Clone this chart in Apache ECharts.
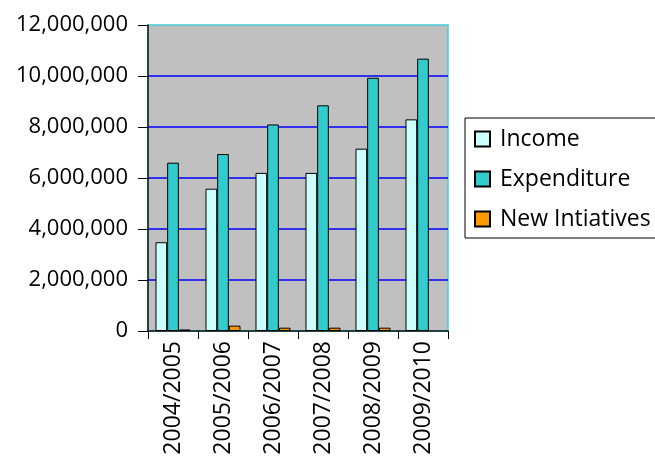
<!DOCTYPE html>
<html>
<head>
<meta charset="utf-8">
<script src="https://cdn.jsdelivr.net/npm/echarts@6/dist/echarts.min.js"></script>
<style>
  html, body { margin: 0; padding: 0; background: #ffffff; }
  #chart { width: 655px; height: 460px; }
</style>
</head>
<body>
<div id="chart"></div>
<script>
// Yearly figures
const years = ['2004/2005', '2005/2006', '2006/2007', '2007/2008', '2008/2009', '2009/2010'];
const income = [3480000, 5580000, 6200000, 6200000, 7150000, 8300000];
const expenditure = [6600000, 6940000, 8100000, 8850000, 9930000, 10680000];
const newInitiatives = [60000, 210000, 130000, 130000, 130000, null];
const yTicks = { min: 0, max: 12000000, step: 2000000 };

const FONT = 'Open Sans';
const chart = echarts.init(document.getElementById('chart'), null, { renderer: 'canvas' });

function withCommas(v) {
  return String(v).replace(/\B(?=(\d{3})+(?!\d))/g, ',');
}

const barBorder = { borderColor: '#000000', borderWidth: 1 };

chart.setOption({
  animation: false,
  backgroundColor: '#ffffff',
  textStyle: { fontFamily: FONT },
  grid: {
    left: 148, top: 25, right: 207, bottom: 129,
    show: true,
    backgroundColor: '#C0C0C0',
    borderColor: '#46CDD6',
    borderWidth: 1.5
  },
  legend: {
    orient: 'vertical',
    left: 465, top: 118,
    padding: [9, 30, 7, 9],
    itemGap: 16,
    itemWidth: 15, itemHeight: 15,
    icon: 'rect',
    backgroundColor: '#ffffff',
    borderColor: '#000000',
    borderWidth: 1,
    borderRadius: 0,
    textStyle: { fontFamily: FONT, fontSize: 23, color: '#000000', lineHeight: 24, padding: [0, 0, 0, 5] },
    data: ['Income', 'Expenditure', 'New Intiatives']
  },
  xAxis: {
    type: 'category',
    data: years,
    boundaryGap: true,
    axisLine: { show: true, lineStyle: { color: '#0a1414', width: 1.5 } },
    axisTick: { show: true, alignWithLabel: false, length: 8, lineStyle: { color: '#000000' } },
    axisLabel: {
      rotate: 90, margin: 10, interval: 0,
      fontFamily: FONT, fontSize: 23, color: '#000000'
    },
    splitLine: { show: false }
  },
  yAxis: {
    type: 'value',
    min: yTicks.min, max: yTicks.max, interval: yTicks.step,
    axisLine: { show: true, lineStyle: { color: '#0a1414', width: 1.5 } },
    axisTick: { show: true, length: 10, lineStyle: { color: '#000000' } },
    axisLabel: {
      margin: 20, fontFamily: FONT, fontSize: 22, color: '#000000',
      formatter: withCommas
    },
    splitLine: { show: true, showMinLine: false, showMaxLine: false, lineStyle: { color: '#0000FF', width: 1.5 } }
  },
  series: [
    {
      name: 'Income', type: 'bar', data: income,
      barGap: '0%', barCategoryGap: '30%',
      itemStyle: Object.assign({ color: '#CCFFFF' }, barBorder)
    },
    {
      name: 'Expenditure', type: 'bar', data: expenditure,
      barGap: '0%', barCategoryGap: '30%',
      itemStyle: Object.assign({ color: '#33CCCC' }, barBorder)
    },
    {
      name: 'New Intiatives', type: 'bar', data: newInitiatives,
      barGap: '0%', barCategoryGap: '30%',
      itemStyle: Object.assign({ color: '#FF9900' }, barBorder)
    }
  ]
});
</script>
</body>
</html>
